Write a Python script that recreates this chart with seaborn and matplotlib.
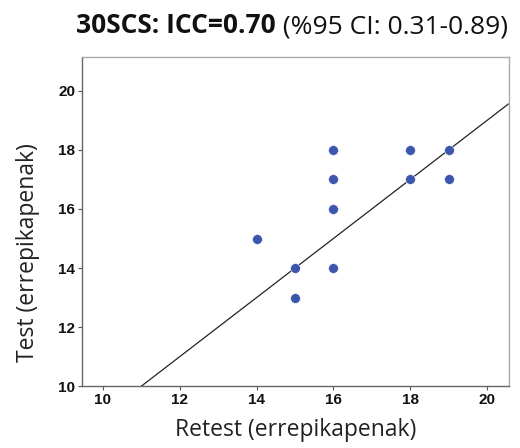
import matplotlib
matplotlib.use('Agg')
import matplotlib.pyplot as plt
import seaborn as sns
import pandas as pd

# data
retest = [14, 15, 15, 16, 16, 16, 16, 18, 18, 19, 19]
test = [15, 14, 13, 18, 17, 16, 14, 18, 17, 18, 17]
line_intercept = -1.0
line_slope = 1.0
x_ticks = [10, 12, 14, 16, 18, 20]
y_ticks = [10, 12, 14, 16, 18, 20]
title_bold = '30SCS: ICC=0.70'
title_rest = ' (%95 CI: 0.31-0.89)'

sns.set_theme(style='white')
plt.rcParams['font.family'] = ['Open Sans', 'DejaVu Sans']

fig = plt.figure(figsize=(5.2, 4.48), dpi=100)
ax = fig.add_axes([0.158, 0.138, 0.820, 0.735])

df = pd.DataFrame({'Retest': retest, 'Test': test})
sns.scatterplot(data=df, x='Retest', y='Test', ax=ax, color='#3B56AC',
                s=50, edgecolor='white', linewidth=0.4, zorder=3)
ax.axline((0, line_intercept), slope=line_slope, color='#222222', lw=0.9, zorder=2)

ax.set_xlim(9.46, 20.56)
ax.set_ylim(10, 21.15)
tick_font = dict(fontfamily=['Liberation Sans', 'DejaVu Sans'], fontweight='bold',
                 fontsize=11, color='#111111')
ax.set_xticks(x_ticks, labels=[str(t) for t in x_ticks], **tick_font)
ax.set_yticks(y_ticks, labels=[str(t) for t in y_ticks], **tick_font)
ax.tick_params(axis='both', direction='out', length=3, width=0.8, color='#555555',
               pad=2, left=True, bottom=True)

for side in ['left', 'bottom']:
    ax.spines[side].set_color('#666666')
    ax.spines[side].set_linewidth(1.0)
for side in ['top', 'right']:
    ax.spines[side].set_color('#aaaaaa')
    ax.spines[side].set_linewidth(1.0)

ax.set_xlabel('Retest (errepikapenak)', fontsize=16.5, color='#222222', labelpad=8)
ax.set_ylabel('Test (errepikapenak)', fontsize=16.5, color='#222222')
ax.yaxis.set_label_coords(-0.1, 0.405)

# title with a bold first half
ty = 1 - 33 / 448
t1 = fig.text(0, ty, title_bold, fontsize=19, fontweight='bold', va='baseline', color='#111111')
t2 = fig.text(0, ty, title_rest, fontsize=19, va='baseline', color='#111111')
fig.canvas.draw()
r = fig.canvas.get_renderer()
w1 = t1.get_window_extent(r).width
w2 = t2.get_window_extent(r).width
W = fig.bbox.width
start = (292 - (w1 + w2) / 2) / W
t1.set_x(start)
t2.set_x(start + w1 / W)

fig.savefig('out.png', dpi=100)
